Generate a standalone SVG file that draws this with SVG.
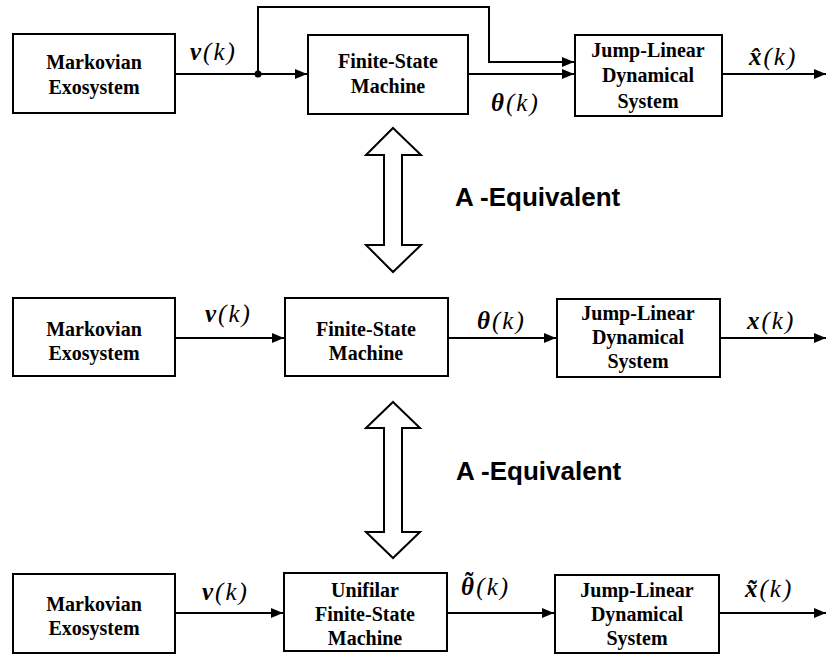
<svg xmlns="http://www.w3.org/2000/svg" width="827" height="656" viewBox="0 0 827 656">
<style>
.box{fill:#fff;stroke:#000;stroke-width:2}
.lbl{font-family:"Liberation Serif","Times New Roman",serif;font-weight:bold;font-size:20px;text-anchor:middle;fill:#000}
.ln{fill:none;stroke:#000;stroke-width:2}
.dbl{fill:#fff;stroke:#000;stroke-width:2;stroke-linejoin:miter}
.math{font-family:"Liberation Serif","Times New Roman",serif;font-style:italic;font-size:25px;letter-spacing:2px;fill:#000}
.b{font-weight:bold}
.eq{font-family:"Liberation Sans",Arial,sans-serif;font-weight:bold;font-size:26px;fill:#000}
</style>
<defs>
<marker id="ah" markerWidth="12" markerHeight="10" refX="12" refY="5" orient="auto" markerUnits="userSpaceOnUse">
<path d="M0,0 L12,5 L0,10 Z" fill="#000"/>
</marker>
</defs>
<rect width="827" height="656" fill="#fff"/>

<g id="connectors">
<!-- row 1 -->
<path class="ln" d="M175,74 H307" marker-end="url(#ah)"/>
<circle cx="258" cy="74" r="3.5" fill="#000"/>
<path class="ln" d="M258,74 V7 H489 V62 H574" marker-end="url(#ah)"/>
<path class="ln" d="M468,74 H574" marker-end="url(#ah)"/>
<path class="ln" d="M722,74 H826" marker-end="url(#ah)"/>
<!-- row 2 -->
<path class="ln" d="M175,338 H284" marker-end="url(#ah)"/>
<path class="ln" d="M448,338 H556" marker-end="url(#ah)"/>
<path class="ln" d="M720,338 H826" marker-end="url(#ah)"/>
<!-- row 3 -->
<path class="ln" d="M175,613 H283" marker-end="url(#ah)"/>
<path class="ln" d="M447,613 H554" marker-end="url(#ah)"/>
<path class="ln" d="M719,613 H826" marker-end="url(#ah)"/>
</g>

<g id="labels">
<text class="math" x="190" y="60"><tspan class="b">ν</tspan>(k)</text>
<text class="math" x="491" y="111"><tspan class="b">θ</tspan>(k)</text>
<text class="math" x="749" y="65"><tspan class="b">x̂</tspan>(k)</text>
<text class="math" x="205" y="322"><tspan class="b">ν</tspan>(k)</text>
<text class="math" x="477" y="329"><tspan class="b">θ</tspan>(k)</text>
<text class="math" x="747" y="329"><tspan class="b">x</tspan>(k)</text>
<text class="math" x="202" y="600"><tspan class="b">ν</tspan>(k)</text>
<text class="math" x="461" y="595" style="letter-spacing:0"><tspan class="b">θ</tspan><tspan dx="-9" dy="-5" style="font-style:normal;font-weight:bold">˜</tspan><tspan dx="3" dy="5">(</tspan><tspan dx="2">k</tspan><tspan dx="2">)</tspan></text>
<text class="math" x="745" y="597"><tspan class="b">x̃</tspan>(k)</text>
</g>

<g id="r1-markov">
<rect class="box" x="13" y="34" width="162" height="79"/>
<text class="lbl" x="94" y="69">Markovian</text>
<text class="lbl" x="94" y="94">Exosystem</text>
</g>
<g id="r1-fsm">
<rect class="box" x="308" y="35" width="160" height="79"/>
<text class="lbl" x="388" y="68">Finite-State</text>
<text class="lbl" x="388" y="93">Machine</text>
</g>
<g id="r1-jlds">
<rect class="box" x="575" y="35" width="147" height="81"/>
<text class="lbl" x="648" y="57">Jump-Linear</text>
<text class="lbl" x="648" y="82">Dynamical</text>
<text class="lbl" x="648" y="108">System</text>
</g>

<g id="equiv1">
<polygon class="dbl" points="393,128 421,155 402,155 402,245 421,245 393,272 366,245 384,245 384,155 366,155"/>
<text class="eq" x="455" y="206">A -Equivalent</text>
</g>

<g id="r2-markov">
<rect class="box" x="13" y="298" width="162" height="78"/>
<text class="lbl" x="94" y="336">Markovian</text>
<text class="lbl" x="94" y="360">Exosystem</text>
</g>
<g id="r2-fsm">
<rect class="box" x="285" y="298" width="163" height="78"/>
<text class="lbl" x="366" y="336">Finite-State</text>
<text class="lbl" x="366" y="360">Machine</text>
</g>
<g id="r2-jlds">
<rect class="box" x="557" y="299" width="163" height="78"/>
<text class="lbl" x="638" y="320">Jump-Linear</text>
<text class="lbl" x="638" y="344">Dynamical</text>
<text class="lbl" x="638" y="368">System</text>
</g>

<g id="equiv2">
<polygon class="dbl" points="393,402 420,428 402,428 402,532 420,532 393,558 366,532 384,532 384,428 366,428"/>
<text class="eq" x="456" y="480">A -Equivalent</text>
</g>

<g id="r3-markov">
<rect class="box" x="13" y="574" width="162" height="79"/>
<text class="lbl" x="94" y="611">Markovian</text>
<text class="lbl" x="94" y="635">Exosystem</text>
</g>
<g id="r3-fsm">
<rect class="box" x="284" y="573" width="163" height="78"/>
<text class="lbl" x="365" y="597">Unifilar</text>
<text class="lbl" x="365" y="621">Finite-State</text>
<text class="lbl" x="365" y="645">Machine</text>
</g>
<g id="r3-jlds">
<rect class="box" x="555" y="575" width="164" height="78"/>
<text class="lbl" x="637" y="597">Jump-Linear</text>
<text class="lbl" x="637" y="621">Dynamical</text>
<text class="lbl" x="637" y="645">System</text>
</g>
</svg>
